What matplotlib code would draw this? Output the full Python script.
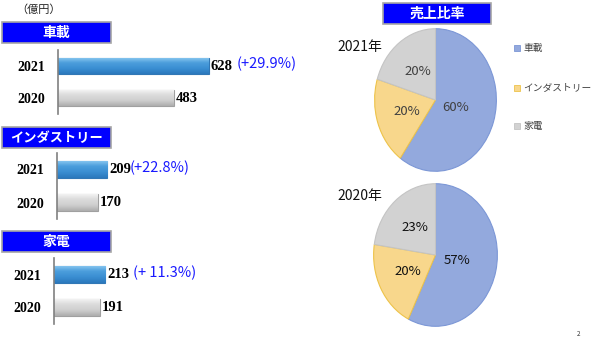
import matplotlib
matplotlib.use("Agg")
import matplotlib.pyplot as plt
import numpy as np
from matplotlib.patches import Rectangle
from matplotlib.colors import LinearSegmentedColormap

plt.rcParams['font.family'] = ['Noto Sans CJK JP', 'DejaVu Sans']

# ---- data ----
segments = ["車載", "インダストリー", "家電"]
years = ["2020", "2021"]
sales_2020 = [483, 170, 191]
sales_2021 = [628, 209, 213]
growth_labels = ["(+29.9%)", "(+22.8%)", "(+ 11.3%)"]
pie_years = ["2021年", "2020年"]
unit_label = "（億円）"
ratio_title = "売上比率"

W, H = 610, 346
fig = plt.figure(figsize=(W / 100, H / 100), dpi=100)
fig.patch.set_facecolor("white")


def px_axes(x, y, w, h, **kw):
    return fig.add_axes([x / W, 1 - (y + h) / H, w / W, h / H], **kw)


# overlay in pixel coordinates for headers and captions
deco = px_axes(0, 0, W, H)
deco.set_xlim(0, W)
deco.set_ylim(H, 0)
deco.axis("off")
deco.set_zorder(5)


def header(x, y, w, h, text, size):
    deco.add_patch(Rectangle((x, y), w, h, facecolor="#0000FF",
                             edgecolor="#A6A6A6", linewidth=1.2))
    deco.text(x + w / 2, y + h / 2 + 0.5, text, color="white", fontsize=size,
              fontweight="bold", ha="center", va="center")


deco.text(16, 10, unit_label, fontsize=8, ha="left", va="center", color="#222222")

# ---- horizontal bar panels ----
px_per_unit = 0.24
panels = [
    # header (x, y, w, h), axis x, axis top, axis height, header font size, gap
    ((2, 22, 109, 21), 58, 50, 64, 10, 20),
    ((2, 127, 109, 21), 57, 153, 66, 9.5, 16),
    ((2, 231, 109, 21), 54, 258, 66, 10, 20),
]

blue_cmap = LinearSegmentedColormap.from_list(
    "b", ["#2B78BC", "#3A8ED2", "#4C9EDC", "#8FCBF2"])
gray_cmap = LinearSegmentedColormap.from_list(
    "g", ["#ADADAD", "#CFCFCF", "#DCDCDC", "#F7F7F7"])
grad = np.linspace(0, 1, 64).reshape(-1, 1)

for i, (hdr, ax_x, ax_top, ax_h, hsize, gap) in enumerate(panels):
    header(*hdr, segments[i], hsize)
    ax_w = 300
    ax = px_axes(ax_x, ax_top, ax_w, ax_h)
    vals = [sales_2020[i], sales_2021[i]]
    bars = ax.barh([0, 1], vals, height=0.53,
                   color=["#D0D0D0", "#3A8ED2"],
                   edgecolor=["#A0A0A0", "#3177B5"], linewidth=0.8)
    for bar, cmap in zip(bars, [gray_cmap, blue_cmap]):
        x0, y0 = bar.get_x(), bar.get_y()
        bw, bh = bar.get_width(), bar.get_height()
        im = ax.imshow(grad, cmap=cmap, aspect="auto", origin="lower",
                       extent=(x0, x0 + bw, y0, y0 + bh), zorder=bar.get_zorder())
        im.set_clip_path(bar)
    ax.set_xlim(0, ax_w / px_per_unit)
    ax.set_ylim(-0.5, 1.5)
    ax.set_aspect("auto")
    for s in ["top", "right", "bottom"]:
        ax.spines[s].set_visible(False)
    ax.spines["left"].set_color("#808080")
    ax.spines["left"].set_linewidth(1.2)
    ax.set_xticks([])
    ax.set_yticks([0, 1])
    ax.set_yticklabels(years, family="Liberation Serif", fontweight="bold",
                       fontsize=10)
    ax.tick_params(axis="y", length=0, pad=9)
    ax.patch.set_alpha(0)
    for yv, v in zip([0, 1], vals):
        ax.annotate(f"{v}", (v, yv), xytext=(1.5, 0), textcoords="offset points",
                    va="center", ha="left", family="Liberation Serif",
                    fontweight="bold", fontsize=10.5)
    # growth annotation next to the 2021 value
    ax.annotate(growth_labels[i], (vals[1], 1.05), xytext=(gap, 0),
                textcoords="offset points", va="center", ha="left",
                color="#1A1AFF", fontsize=10.5)

# ---- sales ratio pies ----
header(383, 3, 108, 21, ratio_title, 10)
pie_colors = ["#93A9DD", "#F8D78C", "#D2D2D2"]
pie_edges = ["#7C97D6", "#EDC34A", "#C4C4C4"]
pie_boxes = [(374, 28, 123, 144), (373, 183, 125, 144)]
pie_text_colors = ["#404040", "#111111"]

for k, (data, box) in enumerate(zip([sales_2021, sales_2020], pie_boxes)):
    ax = px_axes(*box)
    wedges, _, autotexts = ax.pie(
        data, colors=pie_colors, startangle=90, counterclock=False,
        autopct="%1.0f%%", pctdistance=0.5,
        wedgeprops=dict(linewidth=0.8),
        textprops=dict(fontsize=9.5, color=pie_text_colors[k]))
    for w_, ec in zip(wedges, pie_edges):
        w_.set_edgecolor(ec)
    # the large segment's label sits closer to the centre
    tx, ty = autotexts[0].get_position()
    autotexts[0].set_position((tx * 0.7, ty * 0.7))
    ax.set_aspect("auto")
    ax.set_xlim(-1.01, 1.01)
    ax.set_ylim(-1.01, 1.01)
    ax.axis("off")
    deco.text(337, 47 if k == 0 else 196, pie_years[k], fontsize=10,
              ha="left", va="center", color="#111111")

# legend entries
for j, name in enumerate(segments):
    yy = [48, 88, 126][j]
    deco.add_patch(Rectangle((514, yy - 3), 6, 6, facecolor=pie_colors[j],
                             edgecolor=pie_edges[j], linewidth=0.6))
    deco.text(523, yy, name, fontsize=7, ha="left", va="center", color="#404040")

deco.text(579, 334, "2", fontsize=4.5, ha="center", va="center", color="#333333")

fig.savefig("out.png", dpi=100)
